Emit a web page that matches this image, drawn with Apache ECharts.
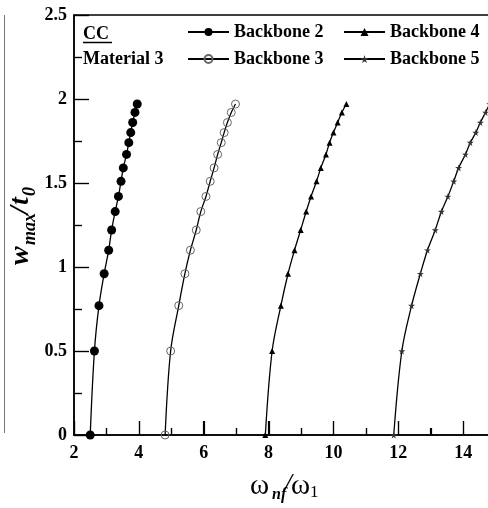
<!DOCTYPE html>
<html>
<head>
<meta charset="utf-8">
<script src="https://cdn.jsdelivr.net/npm/echarts@6/dist/echarts.min.js"></script>
<style>
  html, body { margin: 0; padding: 0; background: #fff; }
  #chart { width: 488px; height: 508px; }
</style>
</head>
<body>
<div id="chart"></div>
<script>
// Non-dimensional amplitude w_max/t0 shared by all backbone curves
const amplitude = [0, 0.5, 0.77, 0.96, 1.1, 1.22, 1.33, 1.42, 1.51, 1.59, 1.67, 1.74, 1.80, 1.86, 1.92, 1.97];

// Frequency ratio ω_nf/ω1 for each backbone
const backbone2 = [2.50, 2.63, 2.77, 2.93, 3.07, 3.16, 3.27, 3.37, 3.45, 3.52, 3.62, 3.69, 3.75, 3.81, 3.88, 3.95];
const backbone3 = [4.81, 4.98, 5.23, 5.42, 5.59, 5.77, 5.91, 6.07, 6.20, 6.32, 6.43, 6.54, 6.63, 6.73, 6.85, 6.98];
const backbone4 = [7.90, 8.11, 8.38, 8.60, 8.80, 8.99, 9.16, 9.31, 9.48, 9.61, 9.77, 9.88, 10.00, 10.13, 10.26, 10.40];
const backbone5 = [11.86, 12.11, 12.41, 12.68, 12.90, 13.14, 13.33, 13.53, 13.71, 13.86, 14.07, 14.22, 14.39, 14.53, 14.69, 14.82];

const seriesNames = ['Backbone 2', 'Backbone 3', 'Backbone 4', 'Backbone 5'];

const xTicks = { min: 2, max: 16, interval: 2 };
const yTicks = { min: 0, max: 2.5, interval: 0.5 };

const SERIF = '"Liberation Serif", "Times New Roman", serif';
const STAR = 'path://M50,0 L61,35 L98,35 L68,57 L79,91 L50,70 L21,91 L32,57 L2,35 L39,35 Z';

function pairs(xs) {
  return xs.map((x, i) => [x, amplitude[i]]);
}

function lineSeries(name, xs, symbol, size, itemStyle) {
  return {
    name: name,
    type: 'line',
    data: pairs(xs),
    smooth: 0.35,
    symbol: symbol,
    symbolSize: size,
    showAllSymbol: true,
    lineStyle: { color: '#000', width: 1.3 },
    itemStyle: itemStyle,
    emphasis: { disabled: true },
    z: 3
  };
}

// plain text piece placed by its left edge and vertical centre
function piece(text, x, y, font) {
  return {
    type: 'text', x: x, y: y, silent: true,
    style: {
      text: text, font: font, fill: '#000',
      align: 'left', verticalAlign: 'middle',
      textAlign: 'left', textVerticalAlign: 'middle'
    }
  };
}

const labelFont = { fontFamily: SERIF, fontWeight: 'bold', fontSize: 18, color: '#000' };
const tickStyle = { color: '#000', width: 1.2, opacity: 1 };

const legendBase = {
  orient: 'vertical',
  top: 23,
  padding: 0,
  itemWidth: 41,
  itemHeight: 10,
  itemGap: 9,
  selectedMode: false,
  textStyle: labelFont
};

// axis titles built from pieces so subscripts sit below the baseline
const BI = 'italic bold ';
const yTitle = {
  type: 'group', x: 30, y: 265, rotation: Math.PI / 2, silent: true,
  children: [
    piece('w', 0, -9.5, BI + '28px ' + SERIF),
    piece('max', 20, 0, BI + '18px ' + SERIF),
    piece('/', 51, -9.5, BI + '28px ' + SERIF),
    piece('t', 60, -9.5, BI + '28px ' + SERIF),
    piece('0', 69, 0, BI + '18px ' + SERIF)
  ]
};
const xTitle = {
  type: 'group', x: 0, y: 0, silent: true,
  children: [
    piece('ω', 250, 486, '29px ' + SERIF),
    piece('nf', 272, 494.5, BI + '16px ' + SERIF),
    piece('/', 284, 485, 'italic 28px ' + SERIF),
    piece('ω', 291, 486, '29px ' + SERIF),
    piece('1', 310, 492.5, '17px ' + SERIF)
  ]
};

const baseGraphic = [
  // neighbouring frame edge on the far left
  { type: 'line', shape: { x1: 4.5, y1: 15, x2: 4.5, y2: 433 }, style: { stroke: '#777', lineWidth: 1 } },
  piece('CC', 83, 34, 'bold 18px ' + SERIF),
  { type: 'line', shape: { x1: 83, y1: 42.5, x2: 112, y2: 42.5 }, style: { stroke: '#000', lineWidth: 1.5 } },
  piece('Material 3', 83, 59, 'bold 18px ' + SERIF),
  yTitle,
  xTitle
];

const chart = echarts.init(document.getElementById('chart'), null, { renderer: 'canvas' });

chart.setOption({
  animation: false,
  backgroundColor: '#fff',
  grid: {
    left: 74, top: 15, right: -40, bottom: 73,
    outerBoundsMode: 'none',
    containLabel: false,
    show: true, borderColor: '#000', borderWidth: 1.5, backgroundColor: 'transparent'
  },
  xAxis: {
    type: 'value',
    min: xTicks.min, max: xTicks.max, interval: xTicks.interval,
    axisLine: { show: true, lineStyle: { color: '#000', width: 1.5 } },
    axisTick: { show: true, inside: true, length: 14, lineStyle: tickStyle },
    minorTick: { show: true, splitNumber: 2, length: 7, lineStyle: tickStyle },
    splitLine: { show: false },
    minorSplitLine: { show: false },
    axisLabel: Object.assign({ margin: 9 }, labelFont)
  },
  yAxis: {
    type: 'value',
    min: yTicks.min, max: yTicks.max, interval: yTicks.interval,
    axisLine: { show: true, lineStyle: { color: '#000', width: 1.5 } },
    axisTick: { show: true, inside: true, length: 15, lineStyle: tickStyle },
    minorTick: { show: true, splitNumber: 2, length: 8, lineStyle: tickStyle },
    splitLine: { show: false },
    minorSplitLine: { show: false },
    axisLabel: Object.assign({ margin: 7 }, labelFont)
  },
  legend: [
    Object.assign({ left: 187, data: [seriesNames[0], seriesNames[1]] }, legendBase),
    Object.assign({ left: 343, data: [seriesNames[2], seriesNames[3]] }, legendBase)
  ],
  graphic: baseGraphic,
  series: [
    lineSeries(seriesNames[0], backbone2, 'circle', 9, { color: '#000' }),
    lineSeries(seriesNames[1], backbone3, 'circle', 8, { color: 'rgba(0,0,0,0)', borderColor: '#666', borderWidth: 1 }),
    lineSeries(seriesNames[2], backbone4, 'triangle', 6, { color: '#000' }),
    lineSeries(seriesNames[3], backbone5, STAR, 7, { color: '#333' })
  ]
});

// Inward major/minor tick marks, positioned through the axes' own scales
const tickMarks = [];
const x0 = chart.convertToPixel({ xAxisIndex: 0 }, xTicks.min);
const y0 = chart.convertToPixel({ yAxisIndex: 0 }, yTicks.min);
const xStep = xTicks.interval / 2;
for (let i = 0; xTicks.min + i * xStep <= xTicks.max + 1e-9; i++) {
  const px = Math.round(chart.convertToPixel({ xAxisIndex: 0 }, xTicks.min + i * xStep)) + 0.5;
  const len = i % 2 === 0 ? 14 : 7;
  tickMarks.push({ type: 'line', silent: true, z: 10,
    shape: { x1: px, y1: y0, x2: px, y2: y0 - len },
    style: { stroke: '#000', lineWidth: 1.2 } });
}
const yStep = yTicks.interval / 2;
for (let i = 0; yTicks.min + i * yStep <= yTicks.max + 1e-9; i++) {
  const py = Math.round(chart.convertToPixel({ yAxisIndex: 0 }, yTicks.min + i * yStep)) + 0.5;
  const len = i % 2 === 0 ? 15 : 8;
  tickMarks.push({ type: 'line', silent: true, z: 10,
    shape: { x1: x0, y1: py, x2: x0 + len, y2: py },
    style: { stroke: '#000', lineWidth: 1.2 } });
}
chart.setOption({ graphic: baseGraphic.concat(tickMarks) });
</script>
</body>
</html>
